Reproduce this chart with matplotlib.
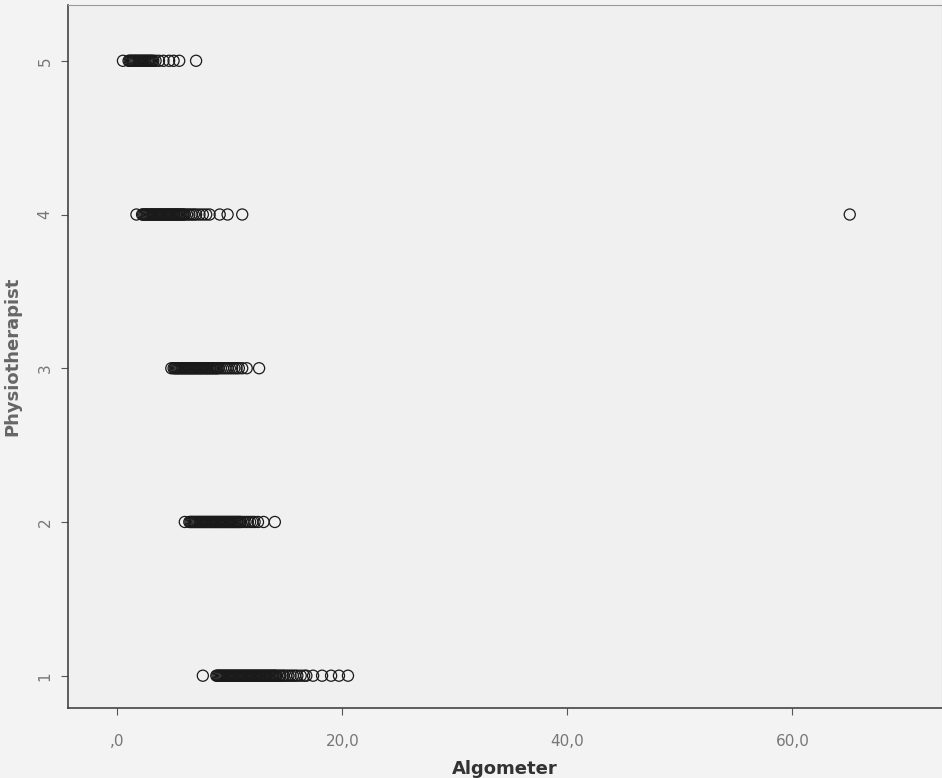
import numpy as np
import matplotlib
matplotlib.use("Agg")
from matplotlib import pyplot as plt

# Algometer readings, one list per physiotherapist
algo_p1 = [7.6, 8.8, 8.9, 9.0, 9.1, 9.2, 9.3, 9.4, 9.5, 9.6, 9.7, 9.8, 9.9, 10.0,
           10.1, 10.2, 10.3, 10.4, 10.5, 10.6, 10.7, 10.8, 10.9, 11.0, 11.1, 11.2,
           11.3, 11.4, 11.5, 11.6, 11.7, 11.8, 11.9, 12.0, 12.1, 12.2, 12.3, 12.4,
           12.5, 12.6, 12.7, 12.8, 12.9, 13.0, 13.1, 13.2, 13.3, 13.4, 13.5, 13.6,
           13.7, 13.8, 13.9, 14.0, 14.1, 14.2, 14.4, 14.5, 14.7, 14.8, 15.0, 15.2,
           15.4, 15.6, 15.8, 16.0, 16.3, 16.6, 16.8, 17.4, 18.2, 19.0, 19.7, 20.5]
algo_p2 = [6.0, 6.4, 6.5, 6.6, 6.7, 6.8, 6.9, 7.0, 7.1, 7.2, 7.3, 7.4, 7.5, 7.6,
           7.7, 7.8, 7.9, 8.0, 8.1, 8.2, 8.3, 8.4, 8.5, 8.6, 8.7, 8.8, 8.9, 9.0,
           9.1, 9.2, 9.3, 9.4, 9.5, 9.6, 9.7, 9.8, 9.9, 10.0, 10.1, 10.2, 10.3,
           10.4, 10.5, 10.6, 10.7, 10.8, 10.9, 11.0, 11.2, 11.4, 11.6, 11.8, 12.0,
           12.2, 12.5, 13.0, 14.0]
algo_p3 = [4.8, 5.0, 5.1, 5.2, 5.3, 5.4, 5.5, 5.6, 5.7, 5.8, 5.9, 6.0, 6.1, 6.2,
           6.3, 6.4, 6.5, 6.6, 6.7, 6.8, 6.9, 7.0, 7.1, 7.2, 7.3, 7.4, 7.5, 7.6,
           7.7, 7.8, 7.9, 8.0, 8.1, 8.2, 8.3, 8.4, 8.5, 8.6, 8.7, 8.8, 8.9, 9.0,
           9.2, 9.4, 9.6, 9.8, 10.0, 10.2, 10.4, 10.6, 10.8, 11.1, 11.5, 12.6]
algo_p4 = [1.7, 2.2, 2.3, 2.4, 2.5, 2.6, 2.7, 2.8, 2.9, 3.0, 3.1, 3.2, 3.3, 3.4,
           3.5, 3.6, 3.7, 3.8, 3.9, 4.0, 4.1, 4.2, 4.3, 4.4, 4.5, 4.6, 4.7, 4.8,
           4.9, 5.0, 5.1, 5.2, 5.3, 5.4, 5.5, 5.6, 5.7, 5.8, 5.9, 6.0, 6.2, 6.4,
           6.6, 6.8, 7.0, 7.3, 7.6, 7.9, 8.2, 9.1, 9.8, 11.1, 65.1]
algo_p5 = [0.5, 1.0, 1.1, 1.2, 1.3, 1.4, 1.5, 1.6, 1.7, 1.8, 1.9, 2.0, 2.1, 2.2,
           2.3, 2.4, 2.5, 2.6, 2.7, 2.8, 2.9, 3.0, 3.1, 3.2, 3.4, 3.7, 4.1, 4.6,
           5.0, 5.5, 7.0]

groups = [1, 2, 3, 4, 5]
readings = [algo_p1, algo_p2, algo_p3, algo_p4, algo_p5]

x_ticks = [0, 20, 40, 60]
x_tick_labels = [",0", "20,0", "40,0", "60,0"]

fig = plt.figure(figsize=(9.42, 7.78), dpi=100, facecolor="#f3f3f3")
ax = fig.add_axes([0.072, 0.09, 0.928, 0.903])
ax.set_facecolor("#f0f0f0")

for g, vals in zip(groups, readings):
    ax.scatter(vals, [g] * len(vals), s=64, facecolors="none",
               edgecolors="#1a1a1a", linewidths=0.9)

ax.set_xlim(-4.4, 73.3)
ax.set_ylim(0.79, 5.36)

ax.set_xticks(x_ticks)
ax.set_xticklabels(x_tick_labels, color="#777777", fontsize=11)
ax.set_yticks(groups)
ax.set_yticklabels([str(g) for g in groups], color="#777777", fontsize=11,
                   rotation=90, va="center")
ax.tick_params(axis="x", direction="out", length=5, pad=14, color="#555555")
ax.tick_params(axis="y", direction="out", length=5, pad=6, color="#555555")

for side in ["left", "bottom"]:
    ax.spines[side].set_color("#444444")
    ax.spines[side].set_linewidth(1.2)
for side in ["top", "right"]:
    ax.spines[side].set_color("#999999")
    ax.spines[side].set_linewidth(0.8)

ax.set_xlabel("Algometer", fontsize=13, fontweight="bold", color="#333333",
              labelpad=8)
ax.set_ylabel("Physiotherapist", fontsize=13, fontweight="bold",
              color="#666666", labelpad=12)

fig.savefig("out.png", dpi=100, facecolor=fig.get_facecolor())
